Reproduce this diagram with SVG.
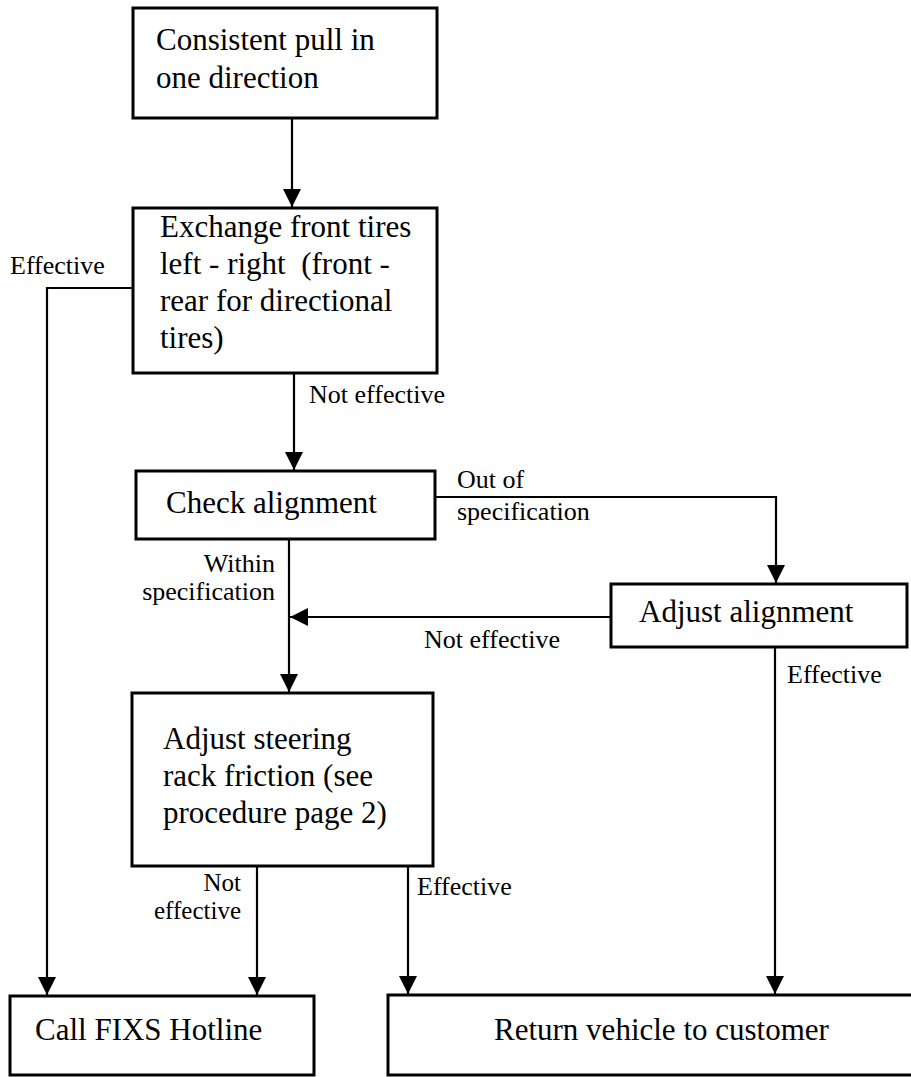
<svg xmlns="http://www.w3.org/2000/svg" width="911" height="1077" viewBox="0 0 911 1077">
<style>
.box{fill:#fff;stroke:#000;stroke-width:3}
.t{font-family:"Liberation Serif","Times New Roman",serif;font-size:31px;fill:#000}
.l{font-family:"Liberation Serif","Times New Roman",serif;font-size:26px;fill:#000}
.c{fill:none;stroke:#000;stroke-width:2.2}
</style>
<defs>
<marker id="ah" markerUnits="userSpaceOnUse" markerWidth="18" markerHeight="18" viewBox="0 0 18 18" refX="18" refY="9" orient="auto">
<path d="M0,0 L18,9 L0,18 Z" fill="#000"/>
</marker>
</defs>
<rect width="911" height="1077" fill="#fff"/>
<g id="connectors">
<path class="c" d="M292,118 V207" marker-end="url(#ah)"/>
<path class="c" d="M133,288 H47 V995" marker-end="url(#ah)"/>
<path class="c" d="M294,373 V470" marker-end="url(#ah)"/>
<path class="c" d="M435,497 H776 V583" marker-end="url(#ah)"/>
<path class="c" d="M611,617 H290" marker-end="url(#ah)"/>
<path class="c" d="M289,539 V692" marker-end="url(#ah)"/>
<path class="c" d="M775,647 V994" marker-end="url(#ah)"/>
<path class="c" d="M257,866 V995" marker-end="url(#ah)"/>
<path class="c" d="M408,866 V994" marker-end="url(#ah)"/>
<text class="l" x="10" y="274">Effective</text>
<text class="l" x="309" y="403">Not effective</text>
<text class="l" x="457" y="488">Out of</text>
<text class="l" x="457" y="520">specification</text>
<text class="l" x="275" y="572" text-anchor="end">Within</text>
<text class="l" x="275" y="600" text-anchor="end">specification</text>
<text class="l" x="424" y="648">Not effective</text>
<text class="l" x="787" y="683">Effective</text>
<text class="l" x="241" y="891" text-anchor="end" style="font-size:25px">Not</text>
<text class="l" x="241" y="919" text-anchor="end" style="font-size:25px">effective</text>
<text class="l" x="417" y="895">Effective</text>
</g>
<g id="n1">
<rect class="box" x="133" y="8" width="304" height="110"/>
<text class="t" x="156" y="50">Consistent pull in</text>
<text class="t" x="156" y="88">one direction</text>
</g>
<g id="n2">
<rect class="box" x="133" y="208" width="304" height="165"/>
<text class="t" x="160" y="237">Exchange front tires</text>
<text class="t" x="160" y="274" xml:space="preserve">left - right  (front -</text>
<text class="t" x="160" y="311">rear for directional</text>
<text class="t" x="160" y="348">tires)</text>
</g>
<g id="n3">
<rect class="box" x="136" y="471" width="299" height="68"/>
<text class="t" x="166" y="513">Check alignment</text>
</g>
<g id="n4">
<rect class="box" x="611" y="584" width="296" height="63"/>
<text class="t" x="639" y="622">Adjust alignment</text>
</g>
<g id="n5">
<rect class="box" x="132" y="693" width="301" height="173"/>
<text class="t" x="163" y="749">Adjust steering</text>
<text class="t" x="163" y="786">rack friction (see</text>
<text class="t" x="163" y="823">procedure page 2)</text>
</g>
<g id="n6">
<rect class="box" x="10" y="996" width="304" height="79"/>
<text class="t" x="35" y="1040">Call FIXS Hotline</text>
</g>
<g id="n7">
<rect class="box" x="388" y="995" width="530" height="80"/>
<text class="t" x="494" y="1040">Return vehicle to customer</text>
</g>
</svg>
